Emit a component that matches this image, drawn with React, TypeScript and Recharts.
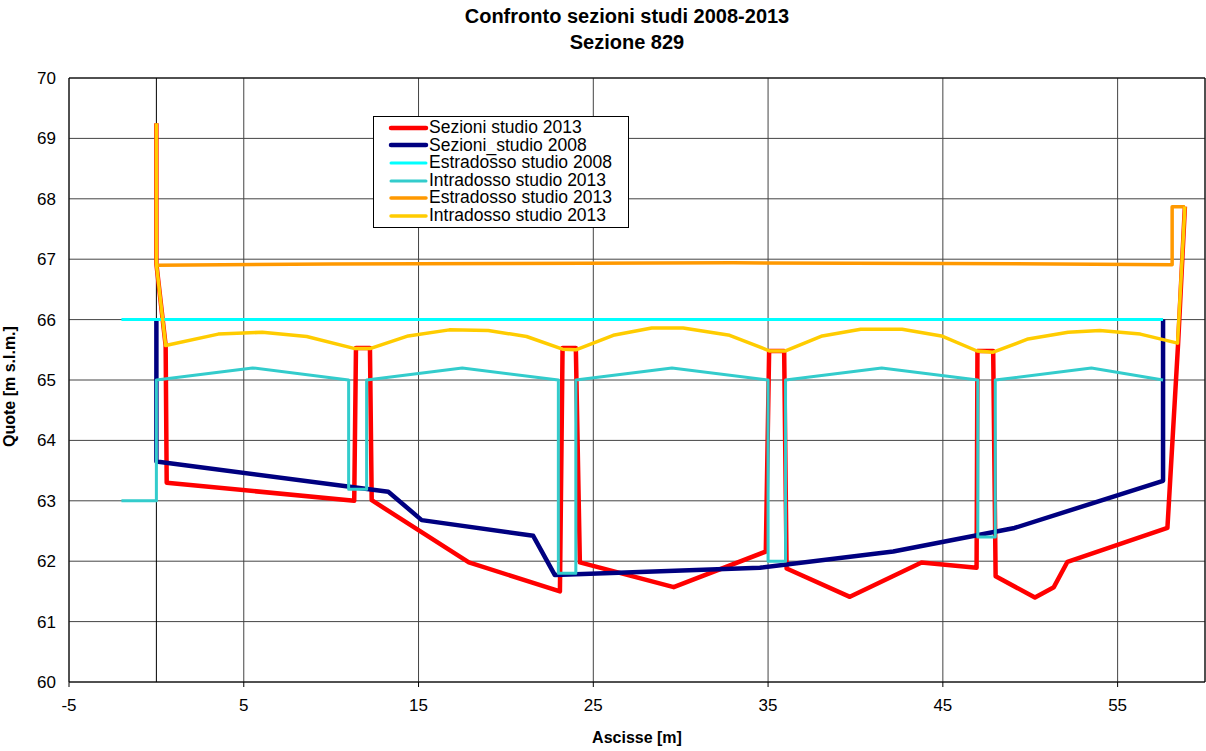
import React from 'react';
import { LineChart, Line, XAxis, YAxis, CartesianGrid, ReferenceLine, Legend } from 'recharts';

// punti [ascissa, quota]
const sezioni2013: [number, number][] = [
  [0, 69.25], [0, 66.92], [0.53, 65.57], [0.59, 63.3], [11.32, 63.0], [11.42, 65.53], [12.22, 65.53],
  [12.32, 63.01], [17.88, 61.98], [23.09, 61.5], [23.24, 65.53], [24.0, 65.53], [24.23, 61.98],
  [29.6, 61.57], [34.87, 62.16], [35.06, 65.48], [35.92, 65.48], [36.06, 61.88], [39.68, 61.41],
  [43.78, 61.98], [46.93, 61.89], [46.98, 65.48], [47.88, 65.48], [48.02, 61.75], [50.27, 61.4],
  [51.35, 61.57], [52.13, 61.99], [57.85, 62.55], [58.46, 65.6], [58.85, 67.87],
];

const sezioni2008: [number, number][] = [
  [0, 66.0], [0, 63.65], [13.27, 63.15], [15.18, 62.68], [21.56, 62.42], [22.8, 61.77],
  [34.53, 61.89], [42.16, 62.16], [49.1, 62.55], [57.6, 63.33], [57.6, 66.0],
];

const estradosso2008: [number, number][] = [
  [-2, 66], [57.6, 66],
];

const intradosso2013a: [number, number][] = [
  [-2, 63], [0, 63], [0, 65], [5.5, 65.2], [11, 65], [11, 63.19], [12.03, 63.19], [12.03, 65],
  [17.5, 65.2], [23, 65], [23, 61.8], [24, 61.8], [24, 65], [29.5, 65.2], [35, 65], [35, 62.0],
  [36, 62.0], [36, 65], [41.5, 65.2], [47, 65], [47, 62.4], [48, 62.4], [48, 65], [53.5, 65.2],
  [57.6, 65],
];

const estradosso2013: [number, number][] = [
  [0, 66.9], [10, 66.92], [20, 66.93], [33, 66.94], [45, 66.93], [58.12, 66.91], [58.12, 67.87], [58.85, 67.87],
];

const intradosso2013b: [number, number][] = [
  [0, 69.25], [0, 66.92], [0.53, 65.57], [3.54, 65.76], [6.06, 65.79], [8.6, 65.72], [11.36, 65.52],
  [12.22, 65.52], [14.41, 65.73], [16.76, 65.83], [18.99, 65.82], [21.18, 65.72], [23.24, 65.51],
  [24.0, 65.5], [26.14, 65.74], [28.34, 65.86], [30.14, 65.86], [32.8, 65.74], [35.1, 65.48],
  [35.96, 65.48], [38.1, 65.73], [40.3, 65.84], [42.67, 65.84], [44.92, 65.73], [46.96, 65.48],
  [47.88, 65.46], [49.88, 65.68], [52.17, 65.79], [53.98, 65.82], [56.3, 65.76], [58.43, 65.61],
  [58.85, 67.87],
];

const xTicks = [-5, 5, 15, 25, 35, 45, 55];
const yTicks = [60, 61, 62, 63, 64, 65, 66, 67, 68, 69, 70];

const series = [
  { name: 'Sezioni studio 2013', points: sezioni2013, color: '#FF0000', width: 4.5 },
  { name: 'Sezioni_studio 2008', points: sezioni2008, color: '#000080', width: 4.5 },
  { name: 'Estradosso studio 2008', points: estradosso2008, color: '#00FFFF', width: 3 },
  { name: 'Intradosso studio 2013', points: intradosso2013a, color: '#33CCCC', width: 3 },
  { name: 'Estradosso studio 2013', points: estradosso2013, color: '#FF9900', width: 3.5 },
  { name: 'Intradosso studio 2013 ', points: intradosso2013b, color: '#FFCC00', width: 3.5 },
];

const font = 'Arial, "Liberation Sans", sans-serif';

function LegendBox() {
  return (
    <div
      style={{
        width: 254,
        height: 108,
        border: '1px solid #000',
        background: '#fff',
        fontFamily: font,
        fontSize: 17.5,
        color: '#000',
        paddingTop: 2,
        boxSizing: 'content-box',
      }}
    >
      {series.map((s) => (
        <div key={s.name} style={{ display: 'flex', alignItems: 'center', height: 17.6, lineHeight: '17.6px' }}>
          <svg width={55} height={10} style={{ flex: 'none' }}>
            <line x1={17} y1={5} x2={52} y2={5} stroke={s.color} strokeWidth={s.width} strokeLinecap="round" />
          </svg>
          <span style={{ whiteSpace: 'nowrap' }}>{s.name.trim()}</span>
        </div>
      ))}
    </div>
  );
}

export default function App() {
  return (
    <div style={{ position: 'absolute', left: 0, top: 0, width: 1206, height: 751, background: '#fff' }}>
      <div
        style={{
          position: 'absolute',
          left: 0,
          width: 1254,
          top: 3,
          textAlign: 'center',
          fontFamily: font,
          fontWeight: 'bold',
          fontSize: 20,
          lineHeight: '26px',
          color: '#000',
        }}
      >
        Confronto sezioni studi 2008-2013
        <br />
        Sezione 829
      </div>
      <LineChart width={1206} height={751} margin={{ top: 78, right: 1, bottom: 29, left: 19 }}>
        <CartesianGrid stroke="#444" strokeWidth={1} />
        <XAxis
          type="number"
          dataKey="x"
          domain={[-5, 60]}
          ticks={xTicks}
          allowDataOverflow
          height={40}
          tickSize={5}
          tickMargin={12}
          stroke="#000"
          tick={{ fill: '#000', fontSize: 17, fontFamily: font }}
          label={{ value: 'Ascisse [m]', position: 'insideBottom', offset: -21, fill: '#000', fontSize: 16, fontWeight: 'bold', fontFamily: font }}
        />
        <YAxis
          type="number"
          dataKey="y"
          domain={[60, 70]}
          ticks={yTicks}
          allowDataOverflow
          width={50}
          tickSize={0}
          tickMargin={13}
          stroke="#000"
          tick={{ fill: '#000', fontSize: 17, fontFamily: font }}
          label={{ value: 'Quote [m s.l.m.]', angle: -90, position: 'insideLeft', offset: -10, dy: 67, fill: '#000', fontSize: 16, fontWeight: 'bold', fontFamily: font }}
        />
        <ReferenceLine x={0} stroke="#000" strokeWidth={1} />
        <ReferenceLine y={70} stroke="#000" strokeWidth={1} />
        <ReferenceLine x={60} stroke="#000" strokeWidth={1} />
        {series.map((s) => (
          <Line
            key={s.name}
            name={s.name}
            data={s.points.map(([x, y]) => ({ x, y }))}
            dataKey="y"
            type="linear"
            stroke={s.color}
            strokeWidth={s.width}
            strokeLinejoin="round"
            dot={false}
            activeDot={false}
            isAnimationActive={false}
          />
        ))}
        <Legend
          layout="vertical"
          align="center"
          verticalAlign="middle"
          content={() => <LegendBox />}
          wrapperStyle={{ position: 'absolute', left: 373, top: 116, width: 256 }}
        />
      </LineChart>
    </div>
  );
}
